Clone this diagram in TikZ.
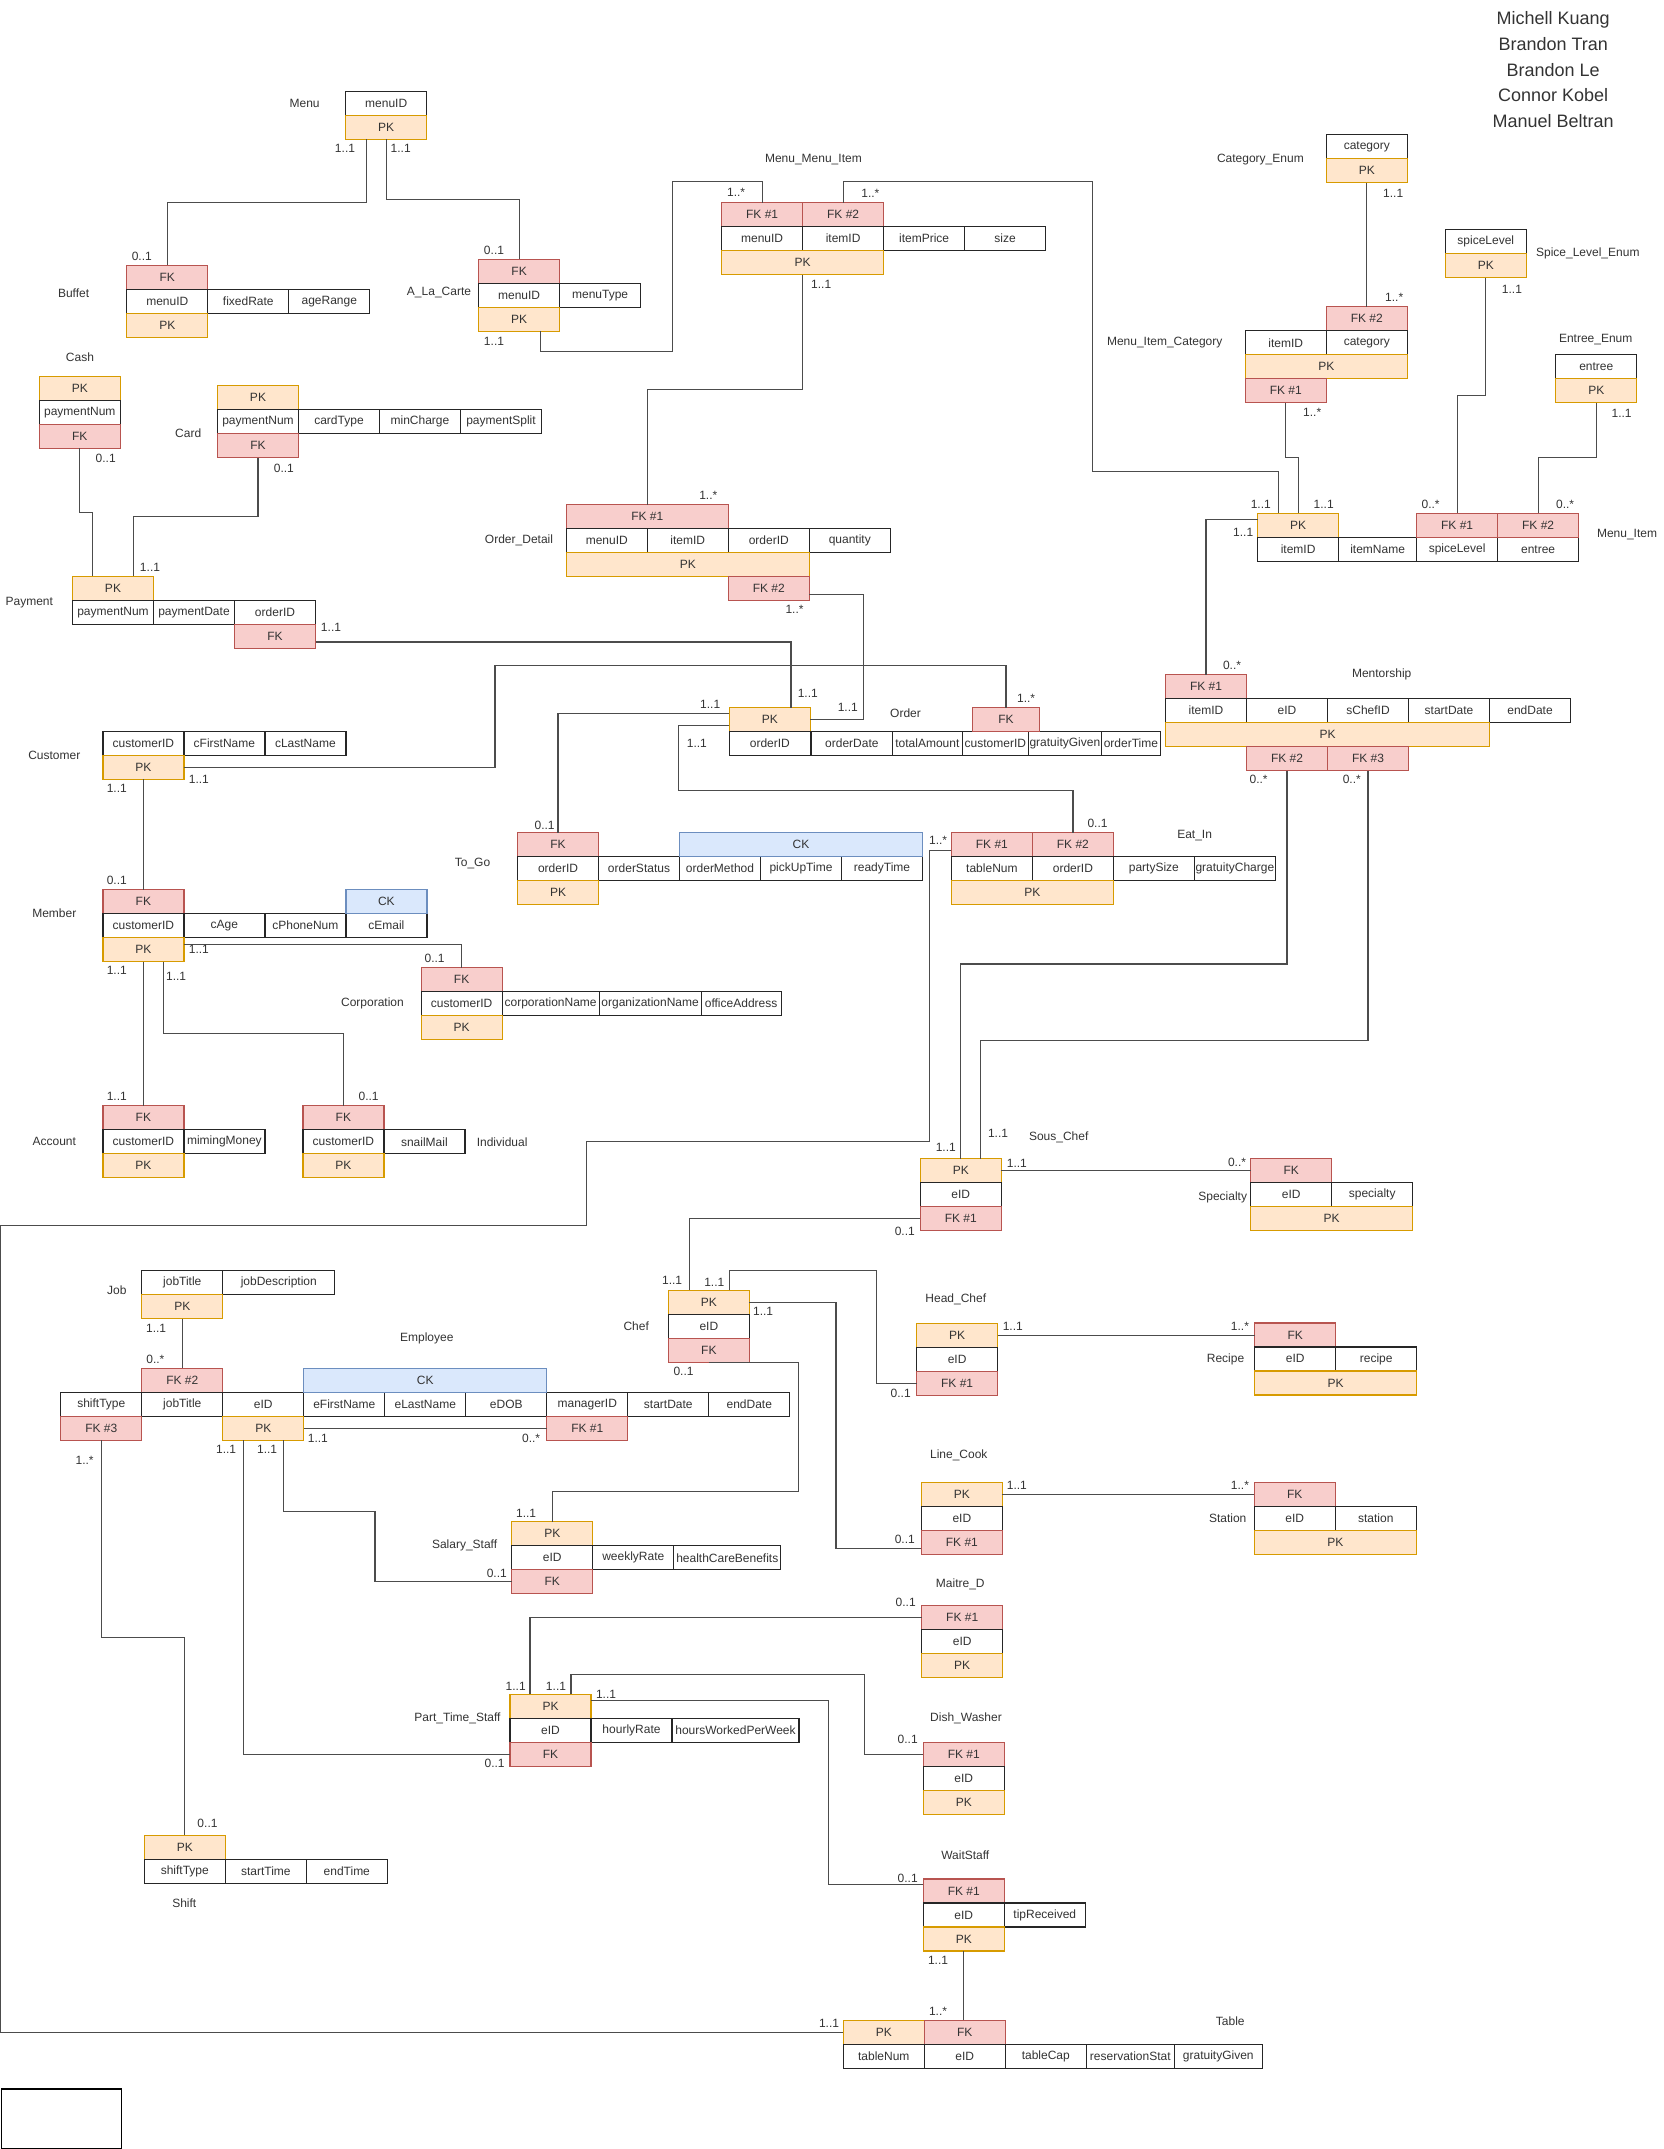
\documentclass[tikz,border=0pt]{standalone}
\usepackage{fontspec}
\setmainfont{Liberation Sans}
\usetikzlibrary{positioning}
\definecolor{pkfill}{HTML}{FFE6CC}
\definecolor{pkline}{HTML}{D79B00}
\definecolor{fkfill}{HTML}{F8CECC}
\definecolor{fkline}{HTML}{B85450}
\definecolor{ckfill}{HTML}{DAE8FC}
\definecolor{ckline}{HTML}{6C8EBF}
\definecolor{inkgray}{HTML}{333333}

\begin{document}
\begin{tikzpicture}
  [x=1pt, y=-1pt,
  font=\fontsize{12}{14}\selectfont,
  cell/.style={minimum width=81pt, minimum height=24pt, inner sep=0pt, outer sep=0pt, line width=1.2pt, text=inkgray},
  attr/.style={cell, draw=black!85, fill=white},
  pk/.style={cell, draw=pkline, fill=pkfill},
  fk/.style={cell, draw=fkline, fill=fkfill},
  ck/.style={cell, draw=ckline, fill=ckfill},
  tname/.style={text=inkgray, inner sep=1pt},
  mult/.style={text=inkgray, inner sep=0pt},
  link/.style={draw=black!70, line width=1.2pt}]

  \useasboundingbox (0,0) rectangle (1664,2149);

  \node [text=inkgray, align=center, font=\fontsize{18}{25.9}\selectfont] (team) at (1553.2,69.6)
    {Michell Kuang\\Brandon Tran\\Brandon Le\\Connor Kobel\\Manuel Beltran};

  % Menu
  \node [tname] (menuLbl) at (304.6,103.7) {Menu};
  \node [attr, anchor=north west] (menuID) at (345.7,91.3) {menuID};
  \node [pk, below=0pt of menuID] (menuPK) {PK};

  % Buffet
  \node [tname] (bufLbl) at (73.6,293.4) {Buffet};
  \node [fk, anchor=north west] (bufFK) at (126.8,265.2) {FK};
  \node [attr, below=0pt of bufFK] (bufMenuID) {menuID};
  \node [attr, right=0pt of bufMenuID] (bufRate) {fixedRate};
  \node [attr, right=0pt of bufRate] (bufAge) {ageRange};
  \node [pk, below=0pt of bufMenuID] (bufPK) {PK};

  % A_La_Carte
  \node [tname] (alcLbl) at (439,292.7) {A\_La\_Carte};
  \node [fk, anchor=north west] (alcFK) at (478.6,259.3) {FK};
  \node [attr, below=0pt of alcFK] (alcMenuID) {menuID};
  \node [attr, right=0pt of alcMenuID] (alcType) {menuType};
  \node [pk, below=0pt of alcMenuID] (alcPK) {PK};

  % Menu_Menu_Item
  \node [tname] (mmiLbl) at (813.4,159.4) {Menu\_Menu\_Item};
  \node [fk, anchor=north west] (mmiFK1) at (721.6,202.5) {FK \#1};
  \node [fk, right=0pt of mmiFK1] (mmiFK2) {FK \#2};
  \node [attr, below=0pt of mmiFK1] (mmiMenuID) {menuID};
  \node [attr, right=0pt of mmiMenuID] (mmiItemID) {itemID};
  \node [attr, right=0pt of mmiItemID] (mmiPrice) {itemPrice};
  \node [attr, right=0pt of mmiPrice] (mmiSize) {size};
  \node [pk, minimum width=162pt, anchor=north west] (mmiPK) at (mmiMenuID.south west) {PK};

  % Category_Enum
  \node [tname] (catLbl) at (1260.4,159.6) {Category\_Enum};
  \node [attr, anchor=north west] (catName) at (1326.3,134.6) {category};
  \node [pk, below=0pt of catName] (catPK) {PK};

  % Spice_Level_Enum
  \node [tname] (spiceLbl) at (1587.8,252.9) {Spice\_Level\_Enum};
  \node [attr, anchor=north west] (spiceName) at (1445.3,229.6) {spiceLevel};
  \node [pk, below=0pt of spiceName] (spicePK) {PK};

  % Entree_Enum
  \node [tname] (entLbl) at (1595.7,339.6) {Entree\_Enum};
  \node [attr, anchor=north west] (entName) at (1555.8,354.6) {entree};
  \node [pk, below=0pt of entName] (entPK) {PK};

  % Menu_Item_Category
  \node [tname] (micLbl) at (1164.7,342.9) {Menu\_Item\_Category};
  \node [fk, anchor=north west] (micFK2) at (1326.3,306.8) {FK \#2};
  \node [attr, below=0pt of micFK2] (micCat) {category};
  \node [attr, left=0pt of micCat] (micItemID) {itemID};
  \node [pk, minimum width=162pt, anchor=north west] (micPK) at (micItemID.south west) {PK};
  \node [fk, anchor=north west] (micFK1) at (micPK.south west) {FK \#1};

  % Menu_Item
  \node [tname] (miLbl) at (1627,534.6) {Menu\_Item};
  \node [pk, anchor=north west] (miPK) at (1257.6,513.2) {PK};
  \node [attr, below=0pt of miPK] (miItemID) {itemID};
  \node [attr, right=0pt of miItemID, minimum width=78pt] (miName) {itemName};
  \node [attr, right=0pt of miName] (miSpice) {spiceLevel};
  \node [attr, right=0pt of miSpice] (miEntree) {entree};
  \node [fk, above=0pt of miSpice] (miFK1) {FK \#1};
  \node [fk, above=0pt of miEntree] (miFK2) {FK \#2};

  % Cash
  \node [tname] (cashLbl) at (80,357.4) {Cash};
  \node [pk, anchor=north west] (cashPK) at (39.3,376.4) {PK};
  \node [attr, below=0pt of cashPK] (cashNum) {paymentNum};
  \node [fk, below=0pt of cashNum] (cashFK) {FK};

  % Card
  \node [tname] (cardLbl) at (188.2,433.5) {Card};
  \node [pk, anchor=north west] (cardPK) at (217.5,385.7) {PK};
  \node [attr, below=0pt of cardPK] (cardNum) {paymentNum};
  \node [attr, right=0pt of cardNum] (cardType) {cardType};
  \node [attr, right=0pt of cardType] (cardMin) {minCharge};
  \node [attr, right=0pt of cardMin] (cardSplit) {paymentSplit};
  \node [fk, below=0pt of cardNum] (cardFK) {FK};

  % Payment
  \node [tname] (payLbl) at (29.3,602.9) {Payment};
  \node [pk, anchor=north west] (payPK) at (72.5,576.4) {PK};
  \node [attr, below=0pt of payPK] (payNum) {paymentNum};
  \node [attr, right=0pt of payNum] (payDate) {paymentDate};
  \node [attr, right=0pt of payDate] (payOrderID) {orderID};
  \node [fk, below=0pt of payOrderID] (payFK) {FK};

  % Order_Detail
  \node [tname] (odLbl) at (519,540.7) {Order\_Detail};
  \node [fk, minimum width=162pt, anchor=north west] (odFK1) at (566.3,504.6) {FK \#1};
  \node [attr, anchor=north west] (odMenuID) at (odFK1.south west) {menuID};
  \node [attr, right=0pt of odMenuID] (odItemID) {itemID};
  \node [attr, right=0pt of odItemID] (odOrderID) {orderID};
  \node [attr, right=0pt of odOrderID] (odQty) {quantity};
  \node [pk, minimum width=243pt, anchor=north west] (odPK) at (odMenuID.south west) {PK};
  \node [fk, anchor=north east] (odFK2) at (odPK.south east) {FK \#2};

  % Order
  \node [tname] (ordLbl) at (905.5,713.6) {Order};
  \node [pk, anchor=north west] (ordPK) at (729.4,707.5) {PK};
  \node [attr, below=0pt of ordPK] (ordID) {orderID};
  \node [attr, right=1pt of ordID] (ordDate) {orderDate};
  \node [attr, right=0pt of ordDate, minimum width=70pt] (ordTotal) {totalAmount};
  \node [attr, right=0pt of ordTotal, minimum width=66pt] (ordCust) {customerID};
  \node [attr, right=0pt of ordCust, minimum width=73pt] (ordGrat) {gratuityGiven};
  \node [attr, right=0pt of ordGrat, minimum width=59pt] (ordTime) {orderTime};
  \node [fk, minimum width=67pt, anchor=north west] (ordFK) at (972.5,707.5) {FK};

  % To_Go
  \node [tname] (togoLbl) at (472.5,863.6) {To\_Go};
  \node [fk, anchor=north west] (togoFK) at (517.5,832.5) {FK};
  \node [attr, below=0pt of togoFK] (togoID) {orderID};
  \node [attr, right=0pt of togoID] (togoStatus) {orderStatus};
  \node [attr, right=0pt of togoStatus] (togoMethod) {orderMethod};
  \node [attr, right=0pt of togoMethod] (togoPickup) {pickUpTime};
  \node [attr, right=0pt of togoPickup] (togoReady) {readyTime};
  \node [ck, minimum width=243pt, anchor=south west] (togoCK) at (togoMethod.north west) {CK};
  \node [pk, below=0pt of togoID] (togoPK) {PK};

  % Eat_In
  \node [tname] (eatLbl) at (1194.6,835.7) {Eat\_In};
  \node [fk, anchor=north west] (eatFK1) at (951.4,832.5) {FK \#1};
  \node [fk, right=0pt of eatFK1] (eatFK2) {FK \#2};
  \node [attr, below=0pt of eatFK1] (eatTable) {tableNum};
  \node [attr, right=0pt of eatTable] (eatOrderID) {orderID};
  \node [attr, right=0pt of eatOrderID] (eatParty) {partySize};
  \node [attr, right=0pt of eatParty] (eatGrat) {gratuityCharge};
  \node [pk, minimum width=162pt, anchor=north west] (eatPK) at (eatTable.south west) {PK};

  % Customer
  \node [tname] (custLbl) at (54.3,755.7) {Customer};
  \node [attr, anchor=north west] (custID) at (102.9,731.4) {customerID};
  \node [attr, right=0pt of custID] (custFirst) {cFirstName};
  \node [attr, right=0pt of custFirst] (custLast) {cLastName};
  \node [pk, below=0pt of custID] (custPK) {PK};

  % Member
  \node [tname] (memLbl) at (54.3,913.6) {Member};
  \node [fk, anchor=north west] (memFK) at (102.9,889.6) {FK};
  \node [attr, below=0pt of memFK] (memID) {customerID};
  \node [attr, right=0pt of memID] (memAge) {cAge};
  \node [attr, right=0pt of memAge] (memPhone) {cPhoneNum};
  \node [attr, right=0pt of memPhone] (memEmail) {cEmail};
  \node [ck, above=0pt of memEmail] (memCK) {CK};
  \node [pk, below=0pt of memID] (memPK) {PK};

  % Corporation
  \node [tname] (corpLbl) at (372.5,1003.6) {Corporation};
  \node [fk, anchor=north west] (corpFK) at (421.1,967.5) {FK};
  \node [attr, below=0pt of corpFK] (corpID) {customerID};
  \node [attr, right=0pt of corpID, minimum width=97pt] (corpName) {corporationName};
  \node [attr, right=0pt of corpName, minimum width=102pt] (corpOrg) {organizationName};
  \node [attr, right=0pt of corpOrg, minimum width=80pt] (corpAddr) {officeAddress};
  \node [pk, below=0pt of corpID] (corpPK) {PK};

  % Account
  \node [tname] (accLbl) at (54.3,1141.8) {Account};
  \node [fk, anchor=north west] (accFK) at (102.9,1105.7) {FK};
  \node [attr, below=0pt of accFK] (accID) {customerID};
  \node [attr, right=0pt of accID] (accMoney) {mimingMoney};
  \node [pk, below=0pt of accID] (accPK) {PK};

  % Individual
  \node [tname] (indLbl) at (502.1,1141.8) {Individual};
  \node [fk, anchor=north west] (indFK) at (302.9,1105.7) {FK};
  \node [attr, below=0pt of indFK] (indID) {customerID};
  \node [attr, right=0pt of indID] (indMail) {snailMail};
  \node [pk, below=0pt of indID] (indPK) {PK};

  % Mentorship
  \node [tname] (mentLbl) at (1381.7,674.6) {Mentorship};
  \node [fk, anchor=north west] (mentFK1) at (1165.5,674.6) {FK \#1};
  \node [attr, below=0pt of mentFK1] (mentItemID) {itemID};
  \node [attr, right=0pt of mentItemID] (mentEID) {eID};
  \node [attr, right=0pt of mentEID] (mentSChef) {sChefID};
  \node [attr, right=0pt of mentSChef] (mentStart) {startDate};
  \node [attr, right=0pt of mentStart] (mentEnd) {endDate};
  \node [pk, minimum width=324pt, anchor=north west] (mentPK) at (mentItemID.south west) {PK};
  \node [fk, anchor=north west] (mentFK2) at (mentPK.south west -| mentEID.west) {FK \#2};
  \node [fk, right=0pt of mentFK2] (mentFK3) {FK \#3};

  % Sous_Chef
  \node [tname] (scLbl) at (1058.7,1137.5) {Sous\_Chef};
  \node [pk, anchor=north west] (scPK) at (920.3,1158.6) {PK};
  \node [attr, below=0pt of scPK] (scEID) {eID};
  \node [fk, below=0pt of scEID] (scFK) {FK \#1};

  % Specialty
  \node [tname] (specLbl) at (1222.7,1197.5) {Specialty};
  \node [fk, anchor=north west] (specFK) at (1250.7,1158.2) {FK};
  \node [attr, below=0pt of specFK] (specEID) {eID};
  \node [attr, right=0pt of specEID] (specName) {specialty};
  \node [pk, minimum width=162pt, anchor=north west] (specPK) at (specEID.south west) {PK};

  % Job
  \node [tname] (jobLbl) at (116.8,1290.4) {Job};
  \node [attr, anchor=north west] (jobTitle) at (141.8,1270.7) {jobTitle};
  \node [attr, right=0pt of jobTitle, minimum width=112pt] (jobDesc) {jobDescription};
  \node [pk, below=0pt of jobTitle] (jobPK) {PK};

  % Employee
  \node [tname] (empLbl) at (426.8,1338.6) {Employee};
  \node [fk, anchor=north west] (empFK2) at (141.8,1368.2) {FK \#2};
  \node [attr, below=0pt of empFK2] (empJob) {jobTitle};
  \node [attr, left=0pt of empJob] (empShift) {shiftType};
  \node [attr, right=0pt of empJob] (empEID) {eID};
  \node [attr, right=0pt of empEID] (empFirst) {eFirstName};
  \node [attr, right=0pt of empFirst] (empLast) {eLastName};
  \node [attr, right=0pt of empLast] (empDOB) {eDOB};
  \node [attr, right=0pt of empDOB] (empMgr) {managerID};
  \node [attr, right=0pt of empMgr] (empStart) {startDate};
  \node [attr, right=0pt of empStart] (empEnd) {endDate};
  \node [ck, minimum width=243pt, anchor=south west] (empCK) at (empFirst.north west) {CK};
  \node [fk, below=0pt of empShift] (empFK3) {FK \#3};
  \node [pk, below=0pt of empEID] (empPK) {PK};
  \node [fk, below=0pt of empMgr] (empFK1) {FK \#1};

  % Shift
  \node [tname] (shiftLbl) at (184.3,1903.6) {Shift};
  \node [pk, anchor=north west] (shiftPK) at (144.3,1835.3) {PK};
  \node [attr, below=0pt of shiftPK] (shiftType) {shiftType};
  \node [attr, right=0pt of shiftType] (shiftStart) {startTime};
  \node [attr, right=0pt of shiftStart] (shiftEnd) {endTime};

  % Chef
  \node [tname] (chefLbl) at (636.2,1326.4) {Chef};
  \node [pk, anchor=north west] (chefPK) at (668.4,1290.4) {PK};
  \node [attr, below=0pt of chefPK] (chefEID) {eID};
  \node [fk, below=0pt of chefEID] (chefFK) {FK};

  % Head_Chef
  \node [tname] (hcLbl) at (955.8,1299.6) {Head\_Chef};
  \node [pk, anchor=north west] (hcPK) at (916.6,1323.2) {PK};
  \node [attr, below=0pt of hcPK] (hcEID) {eID};
  \node [fk, below=0pt of hcEID] (hcFK) {FK \#1};

  % Recipe
  \node [tname] (recLbl) at (1225.5,1359.6) {Recipe};
  \node [fk, anchor=north west] (recFK) at (1254.7,1322.9) {FK};
  \node [attr, below=0pt of recFK] (recEID) {eID};
  \node [attr, right=0pt of recEID] (recName) {recipe};
  \node [pk, minimum width=162pt, anchor=north west] (recPK) at (recEID.south west) {PK};

  % Line_Cook
  \node [tname] (lcLbl) at (958.8,1455.4) {Line\_Cook};
  \node [pk, anchor=north west] (lcPK) at (921.4,1482.1) {PK};
  \node [attr, below=0pt of lcPK] (lcEID) {eID};
  \node [fk, below=0pt of lcEID] (lcFK) {FK \#1};

  % Station
  \node [tname] (stLbl) at (1227.7,1518.6) {Station};
  \node [fk, anchor=north west] (stFK) at (1254.3,1482.5) {FK};
  \node [attr, below=0pt of stFK] (stEID) {eID};
  \node [attr, right=0pt of stEID] (stName) {station};
  \node [pk, minimum width=162pt, anchor=north west] (stPK) at (stEID.south west) {PK};

  % Salary_Staff
  \node [tname] (ssLbl) at (464.6,1545.7) {Salary\_Staff};
  \node [pk, anchor=north west] (ssPK) at (511.8,1521.8) {PK};
  \node [attr, below=0pt of ssPK] (ssEID) {eID};
  \node [attr, right=0pt of ssEID] (ssRate) {weeklyRate};
  \node [attr, right=0pt of ssRate, minimum width=107pt] (ssCare) {healthCareBenefits};
  \node [fk, below=0pt of ssEID] (ssFK) {FK};

  % Part_Time_Staff
  \node [tname] (ptsLbl) at (457.5,1718.3) {Part\_Time\_Staff};
  \node [pk, anchor=north west] (ptsPK) at (510,1694.3) {PK};
  \node [attr, below=0pt of ptsPK] (ptsEID) {eID};
  \node [attr, right=0pt of ptsEID] (ptsRate) {hourlyRate};
  \node [attr, right=0pt of ptsRate, minimum width=127pt] (ptsHours) {hoursWorkedPerWeek};
  \node [fk, below=0pt of ptsEID] (ptsFK) {FK};

  % Maitre_D
  \node [tname] (mdLbl) at (960.3,1584.7) {Maitre\_D};
  \node [fk, anchor=north west] (mdFK) at (921.7,1605.7) {FK \#1};
  \node [attr, below=0pt of mdFK] (mdEID) {eID};
  \node [pk, below=0pt of mdEID] (mdPK) {PK};

  % Dish_Washer
  \node [tname] (dwLbl) at (966,1718.3) {Dish\_Washer};
  \node [fk, anchor=north west] (dwFK) at (923.3,1742.7) {FK \#1};
  \node [attr, below=0pt of dwFK] (dwEID) {eID};
  \node [pk, below=0pt of dwEID] (dwPK) {PK};

  % WaitStaff
  \node [tname] (wsLbl) at (965.3,1855.3) {WaitStaff};
  \node [fk, anchor=north west] (wsFK) at (923.3,1879) {FK \#1};
  \node [attr, below=0pt of wsFK] (wsEID) {eID};
  \node [attr, right=0pt of wsEID] (wsTip) {tipReceived};
  \node [pk, below=0pt of wsEID] (wsPK) {PK};

  % Table
  \node [tname] (tabLbl) at (1230.3,2020.7) {Table};
  \node [pk, anchor=north west] (tabPK) at (843.3,2020.3) {PK};
  \node [fk, right=0pt of tabPK] (tabFK) {FK};
  \node [attr, below=0pt of tabPK] (tabNum) {tableNum};
  \node [attr, right=0pt of tabNum] (tabEID) {eID};
  \node [attr, right=0pt of tabEID] (tabCap) {tableCap};
  \node [attr, right=0pt of tabCap, minimum width=88pt] (tabRes) {reservationStat};
  \node [attr, right=0pt of tabRes, minimum width=88pt] (tabGrat) {gratuityGiven};

  % empty box
  \node [draw=black, line width=1.2pt, minimum width=120pt, minimum height=60pt, inner sep=0pt, anchor=north west] (blank) at (0.6,2088.4) {};

  % connectors
  \draw [link] ([xshift=-20pt]menuPK.south) |- (300,202.1) -| (bufFK.north);
  \draw [link] (menuPK.south) |- (450,199.4) -| (alcFK.north);
  \draw [link] ([xshift=21pt]alcPK.south) |- (672.4,351.2) |- (700,181.8) -| (mmiFK1.north);
  \draw [link] (mmiFK2.north) |- (1092.3,181.8) -- (1092.3,471.3) -| ([xshift=-20pt]miPK.north);
  \draw [link] (mmiPK.south) |- (700,389.5) -| (odFK1.north);
  \draw [link] (catPK.south) -- (micFK2.north);
  \draw [link] (micFK1.south) |- (1292,457.5) -| (miPK.north);
  \draw [link] (spicePK.south) |- (1470,395.4) -| (miFK1.north);
  \draw [link] (entPK.south) |- (1560,457.5) -| (miFK2.north);
  \draw [link] ([yshift=6pt]miPK.west) -| (mentFK1.north);
  \draw [link] (cashFK.south) |- (86,512.4) -| ([xshift=-20.5pt]payPK.north);
  \draw [link] (cardFK.south) |- (200,516.5) -| ([xshift=20.5pt]payPK.north);
  \draw [link] ([yshift=-5.5pt]payFK.east) -| ([xshift=21pt]ordPK.north);
  \draw [link] (custPK.east) -| (495,665.5) -| (ordFK.north);
  \draw [link] ([yshift=6pt]ordPK.west) -| (togoFK.north);
  \draw [link] ([yshift=-6pt]ordPK.west) -| (678.7,790.4) -| (eatFK2.north);
  \draw [link] ([yshift=-6pt]odFK2.east) -| (863.3,719.5) -- (ordPK.east);
  \draw [link] (custPK.south) -- (memFK.north);
  \draw [link] ([yshift=5.5pt]memPK.east) -| (corpFK.north);
  \draw [link] (memPK.south) -- (accFK.north);
  \draw [link] ([xshift=20pt]memPK.south) |- (250,1033.6) -| (indFK.north);
  \draw [link] ([yshift=-6pt]eatFK1.west) -| (929.2,1141.1) -| (586.6,1225.4) -| (0.7,2032.3) -- (tabPK.west);
  \draw [link] (mentFK2.south) |- (1100,963.9) -| (scPK.north);
  \draw [link] (mentFK3.south) |- (1100,1040.4) -| ([xshift=20pt]scPK.north);
  \draw [link] (scPK.east) -- (scPK.east -| specFK.west);
  \draw [link] (scFK.west) -| ([xshift=-19.5pt]chefPK.north);
  \draw [link] ([xshift=20.5pt]chefPK.north) |- (876.7,1270.7) |- (hcFK.west);
  \draw [link] (chefPK.east) -| (836,1548.1) -- ([yshift=-6pt]lcFK.west);
  \draw [link] (hcPK.east) -- (hcPK.east -| recFK.west);
  \draw [link] (lcPK.east) -- (lcPK.east -| stFK.west);
  \draw [link] (chefFK.south) -| (798.2,1491.1) -| (ssPK.north);
  \draw [link] (empPK.east) -- (empFK1.west);
  \draw [link] (jobPK.south) -- (empFK2.north);
  \draw [link] (empFK3.south) |- (150,1637.5) -| (shiftPK.north);
  \draw [link] ([xshift=-20pt]empPK.south) |- (ptsFK.west);
  \draw [link] ([xshift=20.5pt]empPK.south) |- (375,1511.4) |- (ssFK.west);
  \draw [link] ([xshift=-20.5pt]ptsPK.north) |- (mdFK.west);
  \draw [link] ([xshift=20.5pt]ptsPK.north) |- (864.3,1674.7) |- (dwFK.west);
  \draw [link] ([yshift=6pt]ptsPK.east) -| (828.3,1884.5) -- ([yshift=6.5pt]wsFK.west);
  \draw [link] (wsPK.south) -- (wsPK.south |- tabFK.north);

  % multiplicities
  \node [mult] (mMenuA) at (345,148.8) {1..1};
  \node [mult] (mMenuB) at (400.7,148.8) {1..1};
  \node [mult] (mBuf) at (141.8,256.5) {0..1};
  \node [mult] (mAlcA) at (494,250.3) {0..1};
  \node [mult] (mAlcB) at (494,340.9) {1..1};
  \node [mult] (mMmiA) at (736.1,192.1) {1..*};
  \node [mult] (mMmiB) at (870.4,193.5) {1..*};
  \node [mult] (mMmiC) at (821.2,284.1) {1..1};
  \node [mult] (mCat) at (1393.2,192.9) {1..1};
  \node [mult] (mMicA) at (1394.2,297.1) {1..*};
  \node [mult] (mMicB) at (1312.2,412.5) {1..*};
  \node [mult] (mSpice) at (1511.9,289.6) {1..1};
  \node [mult] (mEnt) at (1621.6,412.9) {1..1};
  \node [mult] (mMiA) at (1260.8,504.6) {1..1};
  \node [mult] (mMiB) at (1323.7,504.6) {1..1};
  \node [mult] (mMiC) at (1430.6,504.6) {0..*};
  \node [mult] (mMiD) at (1565.1,504.6) {0..*};
  \node [mult] (mMiE) at (1243.2,532.1) {1..1};
  \node [mult] (mCash) at (105.7,458.7) {0..1};
  \node [mult] (mCard) at (283.9,468.7) {0..1};
  \node [mult] (mPayA) at (150,567.5) {1..1};
  \node [mult] (mPayB) at (331,627.5) {1..1};
  \node [mult] (mOdA) at (708.3,495.7) {1..*};
  \node [mult] (mOdB) at (794.5,609.3) {1..*};
  \node [mult] (mOrdA) at (807.8,692.9) {1..1};
  \node [mult] (mOrdB) at (847.8,707.5) {1..1};
  \node [mult] (mOrdC) at (710.2,704.6) {1..1};
  \node [mult] (mOrdD) at (696.9,743.2) {1..1};
  \node [mult] (mOrdE) at (1026.1,697.9) {1..*};
  \node [mult] (mTogo) at (544.6,825.4) {0..1};
  \node [mult] (mEatA) at (1097.5,823.6) {0..1};
  \node [mult] (mEatB) at (938.1,840.7) {1..*};
  \node [mult] (mCustA) at (198.9,779.6) {1..1};
  \node [mult] (mCustB) at (116.8,788.6) {1..1};
  \node [mult] (mMemA) at (116.8,880.7) {0..1};
  \node [mult] (mMemB) at (198.9,949.6) {1..1};
  \node [mult] (mMemC) at (116.8,970.7) {1..1};
  \node [mult] (mMemD) at (176.1,976.4) {1..1};
  \node [mult] (mCorp) at (434.6,958.6) {0..1};
  \node [mult] (mAcc) at (116.8,1096.8) {1..1};
  \node [mult] (mInd) at (368.6,1096.8) {0..1};
  \node [mult] (mMentA) at (1232,665.7) {0..*};
  \node [mult] (mMentB) at (1258.6,779.3) {0..*};
  \node [mult] (mMentC) at (1351.8,779.3) {0..*};
  \node [mult] (mScA) at (945.8,1147.5) {1..1};
  \node [mult] (mScB) at (998,1132.9) {1..1};
  \node [mult] (mScC) at (1016.9,1162.9) {1..1};
  \node [mult] (mScD) at (904.8,1231.8) {0..1};
  \node [mult] (mSpec) at (1237,1162.5) {0..*};
  \node [mult] (mChefA) at (672.1,1280.7) {1..1};
  \node [mult] (mChefB) at (714.3,1282.5) {1..1};
  \node [mult] (mChefC) at (763.1,1311.8) {1..1};
  \node [mult] (mChefD) at (683.5,1371.4) {0..1};
  \node [mult] (mHcA) at (1012.8,1326.8) {1..1};
  \node [mult] (mHcB) at (900.7,1392.9) {0..1};
  \node [mult] (mRec) at (1239.9,1326.1) {1..*};
  \node [mult] (mLcA) at (1016.9,1485.7) {1..1};
  \node [mult] (mLcB) at (904.8,1539.3) {0..1};
  \node [mult] (mSt) at (1239.9,1485) {1..*};
  \node [mult] (mJobA) at (156.1,1327.9) {1..1};
  \node [mult] (mJobB) at (155.4,1359.3) {0..*};
  \node [mult] (mEmpA) at (84.6,1460) {1..*};
  \node [mult] (mEmpB) at (226.1,1449.6) {1..1};
  \node [mult] (mEmpC) at (267.1,1449.6) {1..1};
  \node [mult] (mEmpD) at (317.9,1437.9) {1..1};
  \node [mult] (mEmpE) at (531.1,1437.9) {0..*};
  \node [mult] (mSsA) at (526.1,1512.9) {1..1};
  \node [mult] (mSsB) at (496.8,1572.9) {0..1};
  \node [mult] (mShift) at (207.5,1823.4) {0..1};
  \node [mult] (mPtsA) at (515.7,1686) {1..1};
  \node [mult] (mPtsB) at (556,1686.7) {1..1};
  \node [mult] (mPtsC) at (606,1694.7) {1..1};
  \node [mult] (mPtsD) at (494.6,1763.5) {0..1};
  \node [mult] (mMd) at (905.7,1602.7) {0..1};
  \node [mult] (mDw) at (907.7,1739.7) {0..1};
  \node [mult] (mWsA) at (907.7,1878.3) {0..1};
  \node [mult] (mWsB) at (938,1960.7) {1..1};
  \node [mult] (mTabA) at (938,2011.7) {1..*};
  \node [mult] (mTabB) at (829,2023.7) {1..1};

\end{tikzpicture}
\end{document}
